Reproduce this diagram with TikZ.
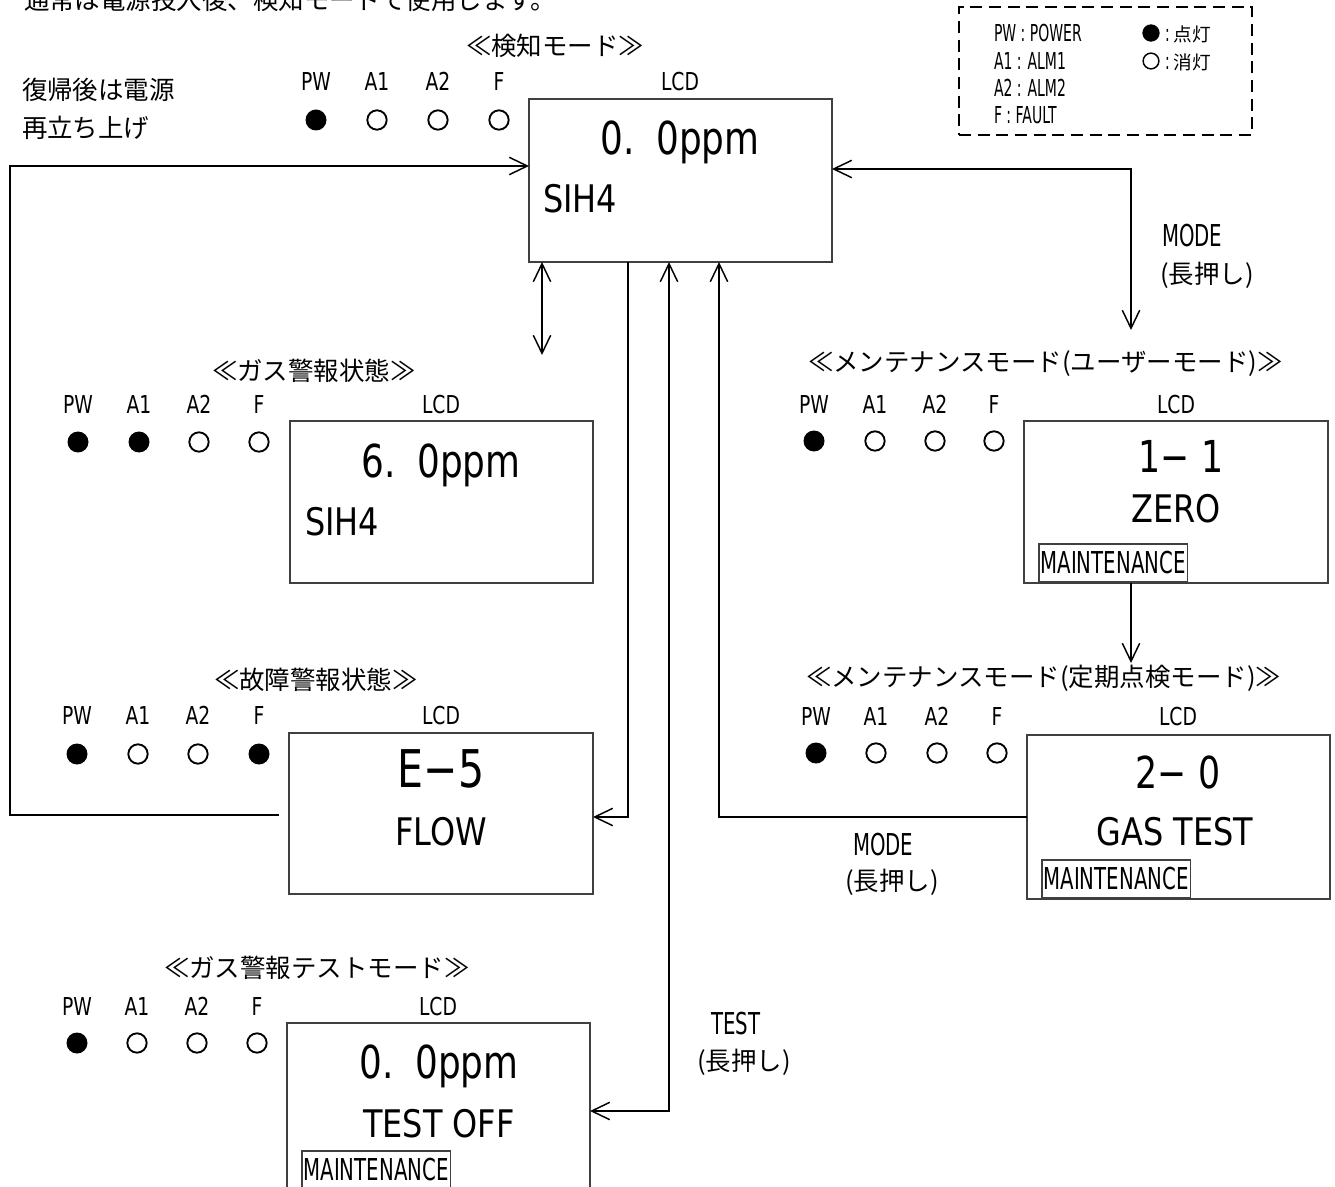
\documentclass[tikz,border=0pt]{standalone}
\usepackage{fontspec}
\usetikzlibrary{arrows.meta,fit}
\newfontfamily\jpf{Noto Sans CJK JP}
\newfontfamily\dvb[FakeStretch=0.79]{DejaVu Sans}
\newfontfamily\dvs[FakeStretch=0.84]{DejaVu Sans}
\newfontfamily\dvl[FakeStretch=0.76]{DejaVu Sans}
\newfontfamily\dvm[FakeStretch=0.655]{DejaVu Sans}
\newfontfamily\dvg[FakeStretch=0.6]{DejaVu Sans}
\tikzset{
  every node/.style={inner sep=0pt, outer sep=0pt},
  jp/.style={font=\jpf\fontsize{19.1pt}{22pt}\selectfont},
  lbl/.style={font=\dvl\fontsize{18.5pt}{20pt}\selectfont, anchor=base},
  big/.style={font=\dvb\fontsize{34pt}{36pt}\selectfont, anchor=base},
  bigb/.style={font=\dvb\fontsize{33pt}{36pt}\selectfont, anchor=base},
  huge/.style={font=\dvb\fontsize{39pt}{42pt}\selectfont, anchor=base},
  sub/.style={font=\dvs\fontsize{28.5pt}{30pt}\selectfont, anchor=base},
  mt/.style={font=\dvm\fontsize{22.6pt}{24pt}\selectfont},
  lg/.style={font=\dvg\fontsize{17.5pt}{19pt}\selectfont, anchor=base west},
  lcdbox/.style={draw=black!75, line width=0.9pt},
  mbox/.style={mt, draw=black!75, line width=0.8pt, anchor=north west, minimum height=28.5pt, inner xsep=1.2pt},
  ledon/.style={circle, fill=black, minimum size=15.75pt},
  ledoff/.style={circle, draw=black, line width=1.4pt, minimum size=14.5pt},
  conn/.style={line width=1.1pt},
}
\begin{document}
\begin{tikzpicture}[x=0.75pt, y=-0.75pt, >={Straight Barb[length=13.5pt,width=13pt]}]
\useasboundingbox (0,0) rectangle (1335,1187);
\fill[white] (0,0) rectangle (1335,1187);
\clip (0,0) rectangle (1335,1187);

% top sentence and notes
\node[jp, anchor=base west] (topline) at (24,10) {通常は電源投入後、検知モードで使用します。};
\node[jp, anchor=west] (ret1) at (22,90) {復帰後は電源};
\node[jp, anchor=west] (ret2) at (22,128) {再立ち上げ};

% legend
\node[draw=black, line width=1.1pt, dash pattern=on 9pt off 5pt, fit={(959,7) (1252,135)}] (legend) {};
\node[lg] (lg1) at (994,42) {PW : POWER};
\node[lg] (lg2) at (994,69.5) {A1 : ALM1};
\node[lg] (lg3) at (994,97) {A2 : ALM2};
\node[lg] (lg4) at (994,124) {F : FAULT};
\node[circle, fill=black, minimum size=13pt] (lgon) at (1151,33) {};
\node[circle, draw=black, line width=1.1pt, minimum size=11.8pt] (lgoff) at (1151,61) {};
\node[lg] (lgt1) at (1165,42) {:\hspace{3pt}{\jpf\fontsize{14pt}{16pt}\selectfont 点灯}};
\node[lg] (lgt2) at (1165,69.5) {:\hspace{3pt}{\jpf\fontsize{14pt}{16pt}\selectfont 消灯}};

% ===== detection mode =====
\node[jp, anchor=west] (dett) at (466,46) {≪検知モード≫};
\foreach \n/\x in {PW/316,A1/377,A2/438,F/499} \node[lbl] (detl\n) at (\x,91) {\n};
\node[lbl] (detlcd) at (680,91) {LCD};
\node[ledon] (detd1) at (316,120) {};
\node[ledoff] (detd2) at (377,120) {};
\node[ledoff] (detd3) at (438,120) {};
\node[ledoff] (detd4) at (499,120) {};
\node[lcdbox, fit={(529,99) (832,262)}] (det) {};
\node[big] (detv) at (680,155) {0.\hspace{5pt} 0ppm};
\node[sub, anchor=base west] (dets) at (543,213) {SIH4};

% ===== gas alarm =====
\node[jp, anchor=west] (gast) at (212,371) {≪ガス警報状態≫};
\foreach \n/\x in {PW/78,A1/139,A2/199,F/259} \node[lbl] (gasl\n) at (\x,413) {\n};
\node[lbl] (gaslcd) at (441,413) {LCD};
\node[ledon] (gasd1) at (78,442) {};
\node[ledon] (gasd2) at (139,442) {};
\node[ledoff] (gasd3) at (199,442) {};
\node[ledoff] (gasd4) at (259,442) {};
\node[lcdbox, fit={(290,421) (593,583)}] (gas) {};
\node[big] (gasv) at (441,477) {6.\hspace{5pt} 0ppm};
\node[sub, anchor=base west] (gass) at (305,535) {SIH4};

% ===== fault alarm =====
\node[jp, anchor=west] (fltt) at (214,680) {≪故障警報状態≫};
\foreach \n/\x in {PW/77,A1/138,A2/198,F/259} \node[lbl] (fltl\n) at (\x,724) {\n};
\node[lbl] (fltlcd) at (441,724) {LCD};
\node[ledon] (fltd1) at (77,754) {};
\node[ledoff] (fltd2) at (138,754) {};
\node[ledoff] (fltd3) at (198,754) {};
\node[ledon] (fltd4) at (259,754) {};
\node[lcdbox, fit={(289,733) (593,894)}] (fault) {};
\node[huge] (fltv) at (441,787) {E−5};
\node[sub] (flts) at (441,845) {FLOW};

% ===== gas alarm test mode =====
\node[jp, anchor=west] (tstt) at (164,968) {≪ガス警報テストモード≫};
\foreach \n/\x in {PW/77,A1/137,A2/197,F/257} \node[lbl] (tstl\n) at (\x,1015) {\n};
\node[lbl] (tstlcd) at (438,1015) {LCD};
\node[ledon] (tstd1) at (77,1043) {};
\node[ledoff] (tstd2) at (137,1043) {};
\node[ledoff] (tstd3) at (197,1043) {};
\node[ledoff] (tstd4) at (257,1043) {};
\node[lcdbox, fit={(287,1023) (590,1200)}] (test) {};
\node[big] (tstv) at (439,1078) {0.\hspace{5pt} 0ppm};
\node[sub] (tsts) at (439,1137) {TEST OFF};
\node[mbox] (tstm) at (302,1151) {MAINTENANCE};

% ===== maintenance (user mode) =====
\node[jp, anchor=west] (usrt) at (808,364) {≪メンテナンスモード(ユーザーモード)≫};
\foreach \n/\x in {PW/814,A1/875,A2/935,F/994} \node[lbl] (usrl\n) at (\x,413) {\n};
\node[lbl] (usrlcd) at (1176,413) {LCD};
\node[ledon] (usrd1) at (814,441) {};
\node[ledoff] (usrd2) at (875,441) {};
\node[ledoff] (usrd3) at (935,441) {};
\node[ledoff] (usrd4) at (994,441) {};
\node[lcdbox, fit={(1024,421) (1328,583)}] (user) {};
\node[bigb] (usrv) at (1181,472) {1− 1};
\node[sub] (usrs) at (1176,522) {ZERO};
\node[mbox] (usrm) at (1039,544) {MAINTENANCE};

% ===== maintenance (periodic) =====
\node[jp, anchor=west] (pert) at (806,678) {≪メンテナンスモード(定期点検モード)≫};
\foreach \n/\x in {PW/816,A1/876,A2/937,F/997} \node[lbl] (perl\n) at (\x,725) {\n};
\node[lbl] (perlcd) at (1178,725) {LCD};
\node[ledon] (perd1) at (816,753) {};
\node[ledoff] (perd2) at (876,753) {};
\node[ledoff] (perd3) at (937,753) {};
\node[ledoff] (perd4) at (997,753) {};
\node[lcdbox, fit={(1027,735) (1330,899)}] (peri) {};
\node[bigb] (perv) at (1178,788) {2− 0};
\node[sub] (pers) at (1175,845) {GAS TEST};
\node[mbox] (perm) at (1042,860) {MAINTENANCE};

% key labels
\node[mt, anchor=base west] (mode1) at (1162,247) {MODE};
\node[jp, anchor=west] (lp1) at (1160,275) {(長押し)};
\node[mt, anchor=base west] (mode2) at (853,855) {MODE};
\node[jp, anchor=west] (lp2) at (845,882) {(長押し)};
\node[mt, anchor=base west] (testk) at (711,1034) {TEST};
\node[jp, anchor=west] (lp3) at (697,1062) {(長押し)};

% connectors
\coordinate (lpin) at (10,166);
\coordinate (lpc) at (10,815);
\coordinate (lpend) at (279,815);
\draw[conn,->] (lpend) -- (lpc) -- (lpin) -- (det.west |- lpin);

\coordinate (dd) at (542,355);
\draw[conn,<->] (det.south -| dd) -- (dd);

\coordinate (c1) at (628,817);
\draw[conn,->] (det.south -| c1) -- (c1) -- (fault.east |- c1);

\coordinate (c2) at (669,1111);
\draw[conn,<->] (det.south -| c2) -- (c2) -- (test.east |- c2);

\coordinate (c3) at (719,817);
\draw[conn,->] (peri.west |- c3) -- (c3) -- (det.south -| c3);

\coordinate (c4) at (1131,169);
\coordinate (c4e) at (1131,330);
\draw[conn,<->] (det.east |- c4) -- (c4) -- (c4e);

\coordinate (c5) at (1131,663);
\draw[conn,->] (user.south -| c5) -- (c5);
\end{tikzpicture}
\end{document}
